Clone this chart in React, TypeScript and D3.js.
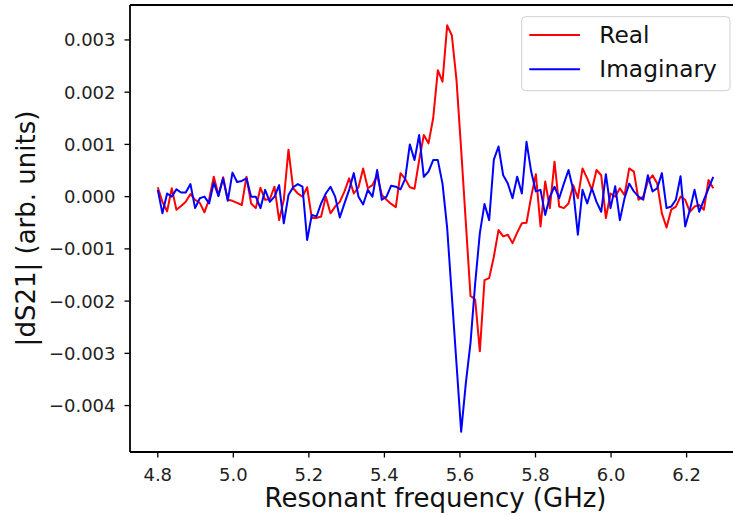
import React from 'react';
import * as d3 from 'd3';

// Frequency grid (GHz): first sample and spacing
const FREQ_START = 4.8;
const FREQ_STEP = 0.012357;

// Real part of dS21 (arb. units)
const REAL = [
  0.00018, -0.0001, -0.00028, 0.00016, -0.00025, -0.00018, -0.0001, 0.00005, -0.00006, -0.00012,
  -0.0003, -0.00005, 0.00038, 0.00003, 0.00037, -0.00006, -0.00008, -0.00012, -0.00016, 0.00038,
  -0.00013, -0.00022, 0.00017, -0.00006, -0.00005, 0.00019, -0.00045, -0.00006, 0.0009, 0.00016,
  0.00006, 0.0, 0.00018, -0.00041, -0.00041, -0.00038, 0.0, -0.00032, -0.00019, -0.0001,
  0.0001, 0.00035, 0.00006, 0.00018, 0.00054, 0.00016, 0.00022, 0.00041, 0.00003, -0.00006,
  -0.00014, -0.0002, 0.00045, 0.00034, 0.00018, 0.00015, 0.0007, 0.00118, 0.00102, 0.0015,
  0.00242, 0.0022, 0.00328, 0.00309, 0.00223, 0.0009, -0.0005, -0.0019, -0.00197, -0.00296,
  -0.0016, -0.00156, -0.00115, -0.00064, -0.00076, -0.00073, -0.00089, -0.00069, -0.00051, -0.0005,
  0.0, 0.00043, -0.00057, 0.00029, -0.00022, 0.00067, -0.00019, -0.00022, -0.00013, 0.00022,
  -0.00003, 0.00054, 0.00035, 0.00013, 0.00051, 0.00041, -0.00041, 0.00006, 0.0, 0.00016,
  0.00003, 0.00054, 0.00048, -0.00006, 0.0, 0.00029, 0.00041, 0.00025, -0.00032, -0.00059,
  -0.00025, -0.00019, 0.0, -0.00006, -0.00029, -0.00019, -0.00016, -0.00025, 0.00032, 0.00016,
];

// Imaginary part of dS21 (arb. units)
const IMAG = [
  0.00013, -0.00032, 0.00006, 0.0, 0.00014, 0.00008, 0.00008, 0.00024, -0.00022, -0.00003,
  0.0, -0.00013, 0.00027, 0.00001, 0.00035, -0.00008, 0.00046, 0.00028, 0.0003, 0.00035,
  0.0, 0.0, -0.00022, 0.00013, -0.0001, 0.0, 0.00022, -0.00051, 0.00003, 0.00018,
  0.00024, 0.00019, -0.00083, -0.00035, -0.00038, -0.00013, 0.00006, 0.00019, 0.0, -0.0004,
  -0.00013, 0.00013, 0.00045, 0.0, -0.00015, 0.00013, 0.0, 0.00051, -0.00006, 0.0,
  0.00021, 0.00019, 0.00014, 0.00034, 0.001, 0.0007, 0.00118, 0.00038, 0.00048, 0.0007,
  0.0007, 0.00025, -0.0006, -0.0019, -0.0032, -0.0045, -0.00357, -0.0028, -0.00166, -0.0007,
  -0.00014, -0.00045, 0.00071, 0.00096, 0.00041, 0.00025, -0.00003, 0.00038, 0.00006, 0.00105,
  0.00048, 0.0001, 0.00013, -0.00035, 0.0, 0.00019, -0.00003, 0.00025, 0.00051, 0.00013,
  -0.00073, 0.00013, -0.00013, 0.00016, -0.0001, -0.00029, 0.00043, -0.00022, 0.0002, -0.00045,
  -0.00003, 0.00025, 0.0001, 0.0, -0.00006, 0.00041, 0.0001, 0.00016, 0.00045, -0.00022,
  -0.00019, -0.00006, 0.00039, -0.00057, -0.00025, 0.00013, -0.00029, -0.00006, 0.00016, 0.00038,
];

const X_TICKS = [4.8, 5.0, 5.2, 5.4, 5.6, 5.8, 6.0, 6.2];
const Y_TICKS = [-0.004, -0.003, -0.002, -0.001, 0.0, 0.001, 0.002, 0.003];
const SERIES_NAMES = ['Real', 'Imaginary'];
const SERIES_COLORS = ['#ff0000', '#0000ff'];

const W = 733;
const H = 516;
const AX = { left: 130, right: 741, top: 5, bottom: 452 };
const FONT = '"DejaVu Sans", sans-serif';

export default function App() {
  const freqs = REAL.map((_, i) => FREQ_START + i * FREQ_STEP);
  const f0 = freqs[0];
  const f1 = freqs[freqs.length - 1];
  const xPad = (f1 - f0) * 0.05;
  const x = d3.scaleLinear().domain([f0 - xPad, f1 + xPad]).range([AX.left, AX.right]);

  const all = REAL.concat(IMAG);
  const lo = d3.min(all) as number;
  const hi = d3.max(all) as number;
  const yPad = (hi - lo) * 0.05;
  const y = d3.scaleLinear().domain([lo - yPad, hi + yPad]).range([AX.bottom, AX.top]);

  const line = d3
    .line<number>()
    .x((_, i) => x(freqs[i]))
    .y((d) => y(d));

  const fx = d3.format('.1f');
  const fy = d3.format('.3f');

  const series = [REAL, IMAG];

  return (
    <svg
      width={W}
      height={H}
      style={{ position: 'absolute', left: 0, top: 0, background: '#fff' }}
      fontFamily={FONT}
    >
      <defs>
        <clipPath id="plot-clip">
          <rect x={AX.left} y={AX.top} width={AX.right - AX.left} height={AX.bottom - AX.top} />
        </clipPath>
      </defs>
      <rect x={0} y={0} width={W} height={H} fill="#fff" />

      <g clipPath="url(#plot-clip)">
        {series.map((s, k) => (
          <path
            key={k}
            d={line(s) || ''}
            fill="none"
            stroke={SERIES_COLORS[k]}
            strokeWidth={2}
            strokeLinejoin="round"
          />
        ))}
      </g>

      {/* spines */}
      <g stroke="#000" strokeWidth={1.8} fill="none">
        <line x1={AX.left} x2={AX.left} y1={AX.top} y2={AX.bottom} />
        <line x1={AX.right} x2={AX.right} y1={AX.top} y2={AX.bottom} />
        <line x1={AX.left} x2={AX.right} y1={AX.top} y2={AX.top} />
        <line x1={AX.left} x2={AX.right} y1={AX.bottom} y2={AX.bottom} />
      </g>

      {/* x ticks */}
      {X_TICKS.map((t) => (
        <g key={'x' + t}>
          <line x1={x(t)} x2={x(t)} y1={AX.bottom} y2={AX.bottom + 5.5} stroke="#000" strokeWidth={1.3} />
          <text x={x(t)} y={481} textAnchor="middle" fontSize={18} fill="#222">
            {fx(t)}
          </text>
        </g>
      ))}

      {/* y ticks */}
      {Y_TICKS.map((t) => (
        <g key={'y' + t}>
          <line x1={AX.left - 5.5} x2={AX.left} y1={y(t)} y2={y(t)} stroke="#000" strokeWidth={1.3} />
          <text x={115.5} y={y(t)} dy="0.36em" textAnchor="end" fontSize={18} fill="#222">
            {fy(t)}
          </text>
        </g>
      ))}

      {/* axis labels */}
      <text x={(AX.left + AX.right) / 2} y={507} textAnchor="middle" fontSize={26} fill="#111">
        Resonant frequency (GHz)
      </text>
      <text
        transform={`translate(34.5, ${(AX.top + AX.bottom) / 2}) rotate(-90)`}
        textAnchor="middle"
        fontSize={26}
        fill="#111"
      >
        |dS21| (arb. units)
      </text>

      {/* legend */}
      <g>
        <rect
          x={521.7}
          y={16.7}
          width={208.3}
          height={74}
          rx={4}
          fill="#fff"
          fillOpacity={0.8}
          stroke="#d0d0d0"
          strokeWidth={1}
        />
        {SERIES_NAMES.map((name, k) => (
          <g key={name}>
            <line
              x1={529.3}
              x2={580}
              y1={35 + k * 34.3}
              y2={35 + k * 34.3}
              stroke={SERIES_COLORS[k]}
              strokeWidth={2}
            />
            <text x={599.3} y={43.3 + k * 34} fontSize={23.3} fill="#111">
              {name}
            </text>
          </g>
        ))}
      </g>
    </svg>
  );
}
